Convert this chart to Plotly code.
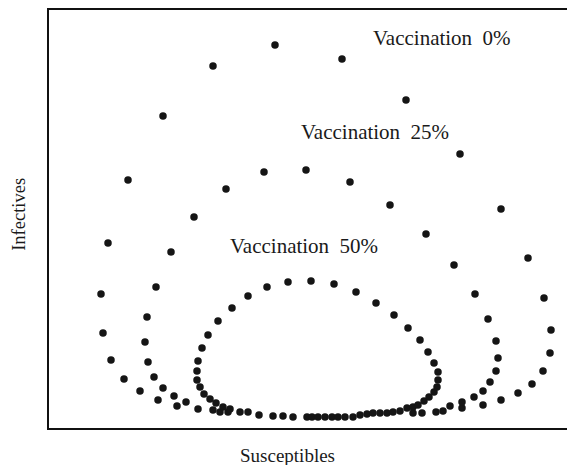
import plotly.graph_objects as go

# Susceptibles (S) and Infectives (I), arbitrary units
s_vacc0 = [171, 179, 394, 413, 434, 452, 469, 483, 494, 501, 502, 495, 479, 452, 411, 357, 293, 226,
           164, 114, 79, 59, 52, 54, 62, 75, 91, 109, 128, 149]
i_vacc0 = [16, 16, 17, 20, 23, 28, 35, 44, 57, 75, 98, 130, 170, 219, 274, 328, 369, 383,
           362, 312, 248, 185, 134, 95, 68, 49, 37, 28, 22, 19]

s_vacc25 = [164, 364, 373, 387, 401, 413, 425, 434, 441, 447, 449, 447, 439, 426, 405, 377, 341, 301,
            257, 215, 177, 145, 122, 107, 98, 96, 99, 105, 114, 125, 137]
i_vacc25 = [18, 15, 15, 16, 22, 26, 31, 37, 46, 57, 70, 87, 109, 134, 163, 194, 223, 246,
            258, 256, 239, 211, 176, 141, 111, 86, 66, 51, 40, 32, 26]

s_vacc50 = [304, 311, 318, 324, 331, 338, 344, 351, 358, 364, 369, 375, 380, 385, 388, 389, 389, 385,
            379, 371, 359, 345, 327, 307, 285, 262, 239, 218, 199, 183, 169, 159, 153, 149, 148, 148,
            151, 155, 161, 167, 174, 181, 191, 199, 210, 224, 234, 244, 258, 263, 269, 276, 283, 289, 296]
i_vacc50 = [11, 13, 14, 15, 15, 15, 16, 17, 20, 21, 23, 27, 31, 36, 41, 48, 56, 65,
            76, 88, 100, 113, 125, 136, 144, 147, 146, 141, 132, 120, 107, 93, 80, 67, 57, 48,
            41, 34, 29, 25, 21, 19, 16, 16, 13, 12, 12, 11, 11, 11, 11, 11, 11, 11, 11]

labels = ["Vaccination\u00a0\u00a00%", "Vaccination\u00a0\u00a025%", "Vaccination\u00a0\u00a050%"]
label_s = [322, 250, 179]
label_i = [390, 296, 182]

FONT = "Liberation Serif, Times New Roman, serif"

fig = go.Figure()
for s, i in [(s_vacc0, i_vacc0), (s_vacc25, i_vacc25), (s_vacc50, i_vacc50)]:
    fig.add_trace(go.Scatter(x=s, y=i, mode="markers",
                             marker=dict(size=7.5, color="#151515"),
                             showlegend=False, hoverinfo="skip"))

for txt, xs, yi in zip(labels, label_s, label_i):
    fig.add_annotation(x=xs, y=yi, text=txt, showarrow=False, xanchor="left", yanchor="middle",
                       font=dict(family=FONT, size=21, color="#1a1a1a"))

fig.add_annotation(text="Susceptibles", xref="paper", yref="paper", x=0.454, y=0, yshift=-27,
                   showarrow=False, xanchor="center", yanchor="middle",
                   font=dict(family=FONT, size=19, color="#1a1a1a"))
fig.add_annotation(text="Infectives", xref="paper", yref="paper", x=0, xshift=-30, y=0.51,
                   showarrow=False, xanchor="center", yanchor="middle", textangle=-90,
                   font=dict(family=FONT, size=18.5, color="#1a1a1a"))

fig.update_xaxes(range=[0, 526], showgrid=False, zeroline=False, showticklabels=False, ticks="",
                 showline=True, linecolor="#111", linewidth=2, mirror=True)
fig.update_yaxes(range=[0, 418], showgrid=False, zeroline=False, showticklabels=False, ticks="",
                 showline=True, linecolor="#111", linewidth=2, mirror=False)

# the page body has an 8px margin, so the figure is offset by 8px
fig.update_layout(width=567, height=457, margin=dict(l=41, r=0, t=2, b=37),
                  paper_bgcolor="white", plot_bgcolor="white")

fig.write_html("out.html")
